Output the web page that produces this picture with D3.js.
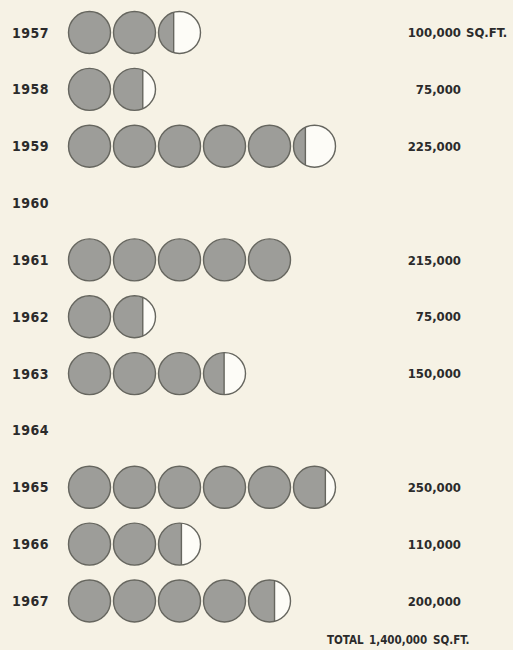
<!DOCTYPE html>
<html>
<head>
<meta charset="utf-8">
<script src="https://cdn.jsdelivr.net/npm/d3@7"></script>
<style>
  html, body { margin: 0; padding: 0; background: #f6f2e5; }
  svg { display: block; }
  text { font-family: "DejaVu Sans Condensed", "DejaVu Sans", sans-serif; font-weight: bold; fill: #2b2b2b; }
</style>
</head>
<body>
<svg id="chart" width="513" height="650"></svg>
<script>
// Floor space added per year (square feet); null = no construction that year
const years  = ["1957", "1958", "1959", "1960", "1961", "1962", "1963", "1964", "1965", "1966", "1967"];
const values = [100000, 75000, 225000, null, 215000, 75000, 150000, null, 250000, 110000, 200000];
const valueLabels = ["100,000", "75,000", "225,000", "", "215,000", "75,000", "150,000", "", "250,000", "110,000", "200,000"];
const unitLabel = "SQ.FT.";
const totalLabel = "TOTAL";
const totalValueLabel = "1,400,000";

// Each circle stands for this many square feet
const UNIT = 43000;

const svg = d3.select("#chart");

const y = d3.scalePoint().domain(years).range([32.5, 601]);
const maxCircles = 6;
const x = d3.scaleLinear().domain([0, maxCircles - 1]).range([89.5, 314.5]);
const r = 21;

// Horizontal chord position (0..1 of the diameter from the left) that encloses
// the given fraction of the circle's area on its left side.
function chordForArea(frac) {
  let lo = 0, hi = 1;
  for (let k = 0; k < 40; k++) {
    const mid = (lo + hi) / 2;
    const d = 1 - 2 * mid; // distance from centre to chord, in radii
    const a = (Math.acos(d) - d * Math.sqrt(1 - d * d)) / Math.PI;
    if (a < frac) lo = mid; else hi = mid;
  }
  return (lo + hi) / 2;
}

const rows = years.map((yr, i) => ({ year: yr, value: values[i], label: valueLabels[i] }));

const circles = [];
rows.forEach(row => {
  if (row.value == null) return;
  const n = row.value / UNIT;
  const full = Math.floor(n + 1e-9);
  const frac = n - full;
  for (let j = 0; j < full; j++) circles.push({ year: row.year, idx: j, frac: 1 });
  if (frac > 1e-6) circles.push({ year: row.year, idx: full, frac: frac });
});

const shade = "#9d9d99";
const edge = "#66665f";
const defs = svg.append("defs");

const g = svg.append("g");
circles.forEach((c, k) => {
  const cx = x(c.idx), cy = y(c.year);
  if (c.frac >= 1) {
    g.append("circle").attr("cx", cx).attr("cy", cy).attr("r", r)
      .attr("fill", shade).attr("stroke", edge).attr("stroke-width", 1.4);
  } else {
    const cut = cx - r + 2 * r * chordForArea(c.frac);
    const id = "clip" + k;
    defs.append("clipPath").attr("id", id)
      .append("rect").attr("x", cx - r - 2).attr("y", cy - r - 2)
      .attr("width", cut - (cx - r - 2)).attr("height", 2 * r + 4);
    g.append("circle").attr("cx", cx).attr("cy", cy).attr("r", r).attr("fill", "#fdfcf7");
    g.append("circle").attr("cx", cx).attr("cy", cy).attr("r", r)
      .attr("fill", shade).attr("clip-path", `url(#${id})`);
    const half = Math.sqrt(Math.max(0, r * r - (cut - cx) * (cut - cx)));
    g.append("line").attr("x1", cut).attr("x2", cut)
      .attr("y1", cy - half).attr("y2", cy + half)
      .attr("stroke", edge).attr("stroke-width", 1.4);
    g.append("circle").attr("cx", cx).attr("cy", cy).attr("r", r)
      .attr("fill", "none").attr("stroke", edge).attr("stroke-width", 1.4);
  }
});

// Year labels
svg.append("g").selectAll("text").data(rows).join("text")
  .attr("x", 12).attr("y", d => y(d.year)).attr("dy", "0.36em")
  .style("font-size", "14px").style("letter-spacing", "0.5px")
  .text(d => d.year);

// Value labels, right aligned
svg.append("g").selectAll("text").data(rows.filter(d => d.label)).join("text")
  .attr("x", 461).attr("y", d => y(d.year)).attr("dy", "0.36em")
  .attr("text-anchor", "end").style("font-size", "13px")
  .text(d => d.label);

svg.append("text").attr("x", 466).attr("y", y(years[0])).attr("dy", "0.36em")
  .style("font-size", "13px").text(unitLabel);

// Total line
const ty = 640;
svg.append("text").attr("x", 327).attr("y", ty).attr("dy", "0.36em")
  .style("font-size", "11.5px").text(totalLabel);
svg.append("text").attr("x", 369).attr("y", ty).attr("dy", "0.36em")
  .style("font-size", "11.5px").text(totalValueLabel);
svg.append("text").attr("x", 433).attr("y", ty).attr("dy", "0.36em")
  .style("font-size", "11.5px").text(unitLabel);
</script>
</body>
</html>
